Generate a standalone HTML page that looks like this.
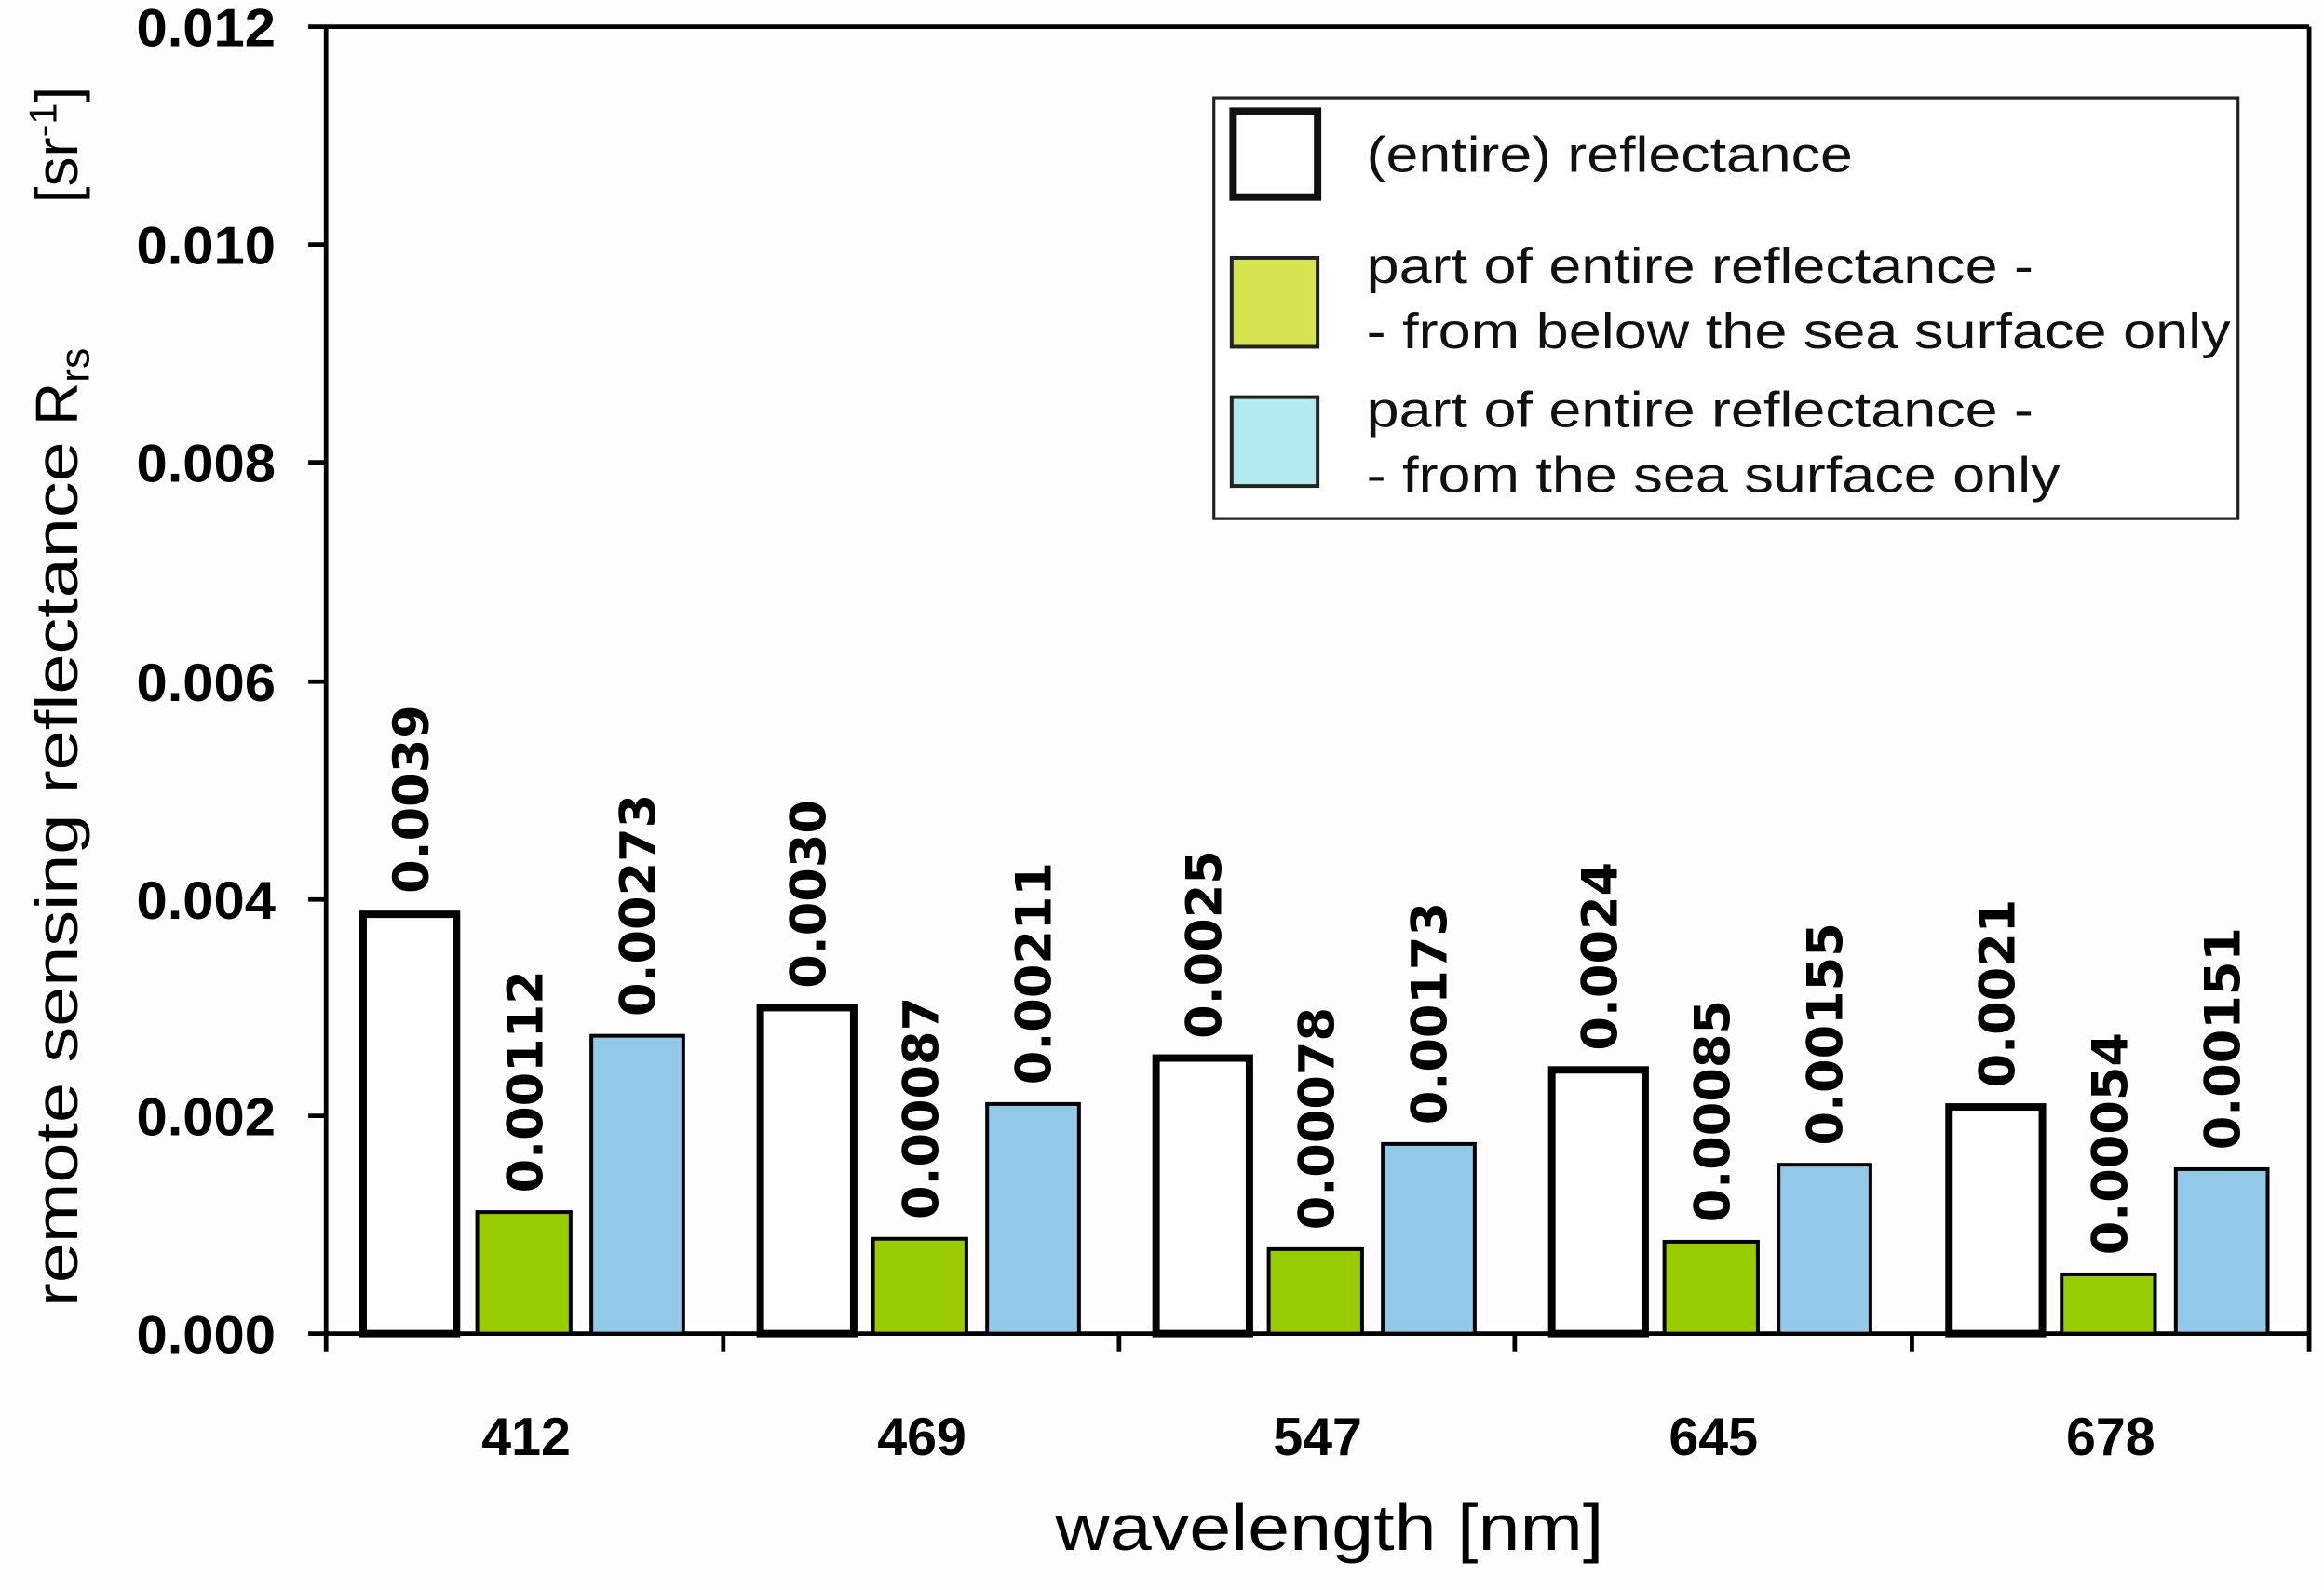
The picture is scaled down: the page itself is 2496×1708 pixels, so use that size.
<!DOCTYPE html>
<html><head><meta charset="utf-8"><style>html,body{margin:0;padding:0;background:#fff}svg{display:block}</style></head>
<body>
<svg width="2496" height="1708" viewBox="0 0 1568 1073" preserveAspectRatio="none" xmlns="http://www.w3.org/2000/svg">
<rect width="1568" height="1073" fill="#fdfdfd"/>
<g stroke="#000" stroke-width="3" fill="none">
<line x1="208" y1="18" x2="1558" y2="18"/>
<line x1="220" y1="18" x2="220" y2="912"/>
<line x1="1558" y1="18" x2="1558" y2="912"/>
<line x1="208" y1="900" x2="1558" y2="900"/>
<line x1="208" y1="165" x2="220" y2="165"/>
<line x1="208" y1="312" x2="220" y2="312"/>
<line x1="208" y1="460" x2="220" y2="460"/>
<line x1="208" y1="607" x2="220" y2="607"/>
<line x1="208" y1="753" x2="220" y2="753"/>
<line x1="488" y1="900" x2="488" y2="912"/>
<line x1="755" y1="900" x2="755" y2="912"/>
<line x1="1022" y1="900" x2="1022" y2="912"/>
<line x1="1290" y1="900" x2="1290" y2="912"/>
</g>
<g font-family="'Liberation Sans',sans-serif" font-weight="bold" font-size="36" text-anchor="end">
<text x="186" y="31" textLength="94" lengthAdjust="spacingAndGlyphs">0.012</text>
<text x="186" y="178" textLength="94" lengthAdjust="spacingAndGlyphs">0.010</text>
<text x="186" y="325" textLength="94" lengthAdjust="spacingAndGlyphs">0.008</text>
<text x="186" y="473" textLength="94" lengthAdjust="spacingAndGlyphs">0.006</text>
<text x="186" y="620" textLength="94" lengthAdjust="spacingAndGlyphs">0.004</text>
<text x="186" y="766" textLength="94" lengthAdjust="spacingAndGlyphs">0.002</text>
<text x="186" y="913" textLength="94" lengthAdjust="spacingAndGlyphs">0.000</text>
</g>
<g font-family="'Liberation Sans',sans-serif" font-weight="bold" font-size="36" text-anchor="middle">
<text x="355" y="982">412</text>
<text x="622" y="982">469</text>
<text x="889" y="982">547</text>
<text x="1156" y="982">645</text>
<text x="1424" y="982">678</text>
</g>
<text x="712" y="1046" font-family="'Liberation Sans',sans-serif" font-size="44" textLength="370" lengthAdjust="spacingAndGlyphs">wavelength  [nm]</text>
<g font-family="'Liberation Sans',sans-serif" font-size="40">
<text transform="translate(52,882) rotate(-90)" textLength="584" lengthAdjust="spacingAndGlyphs">remote sensing reflectance</text>
<text transform="translate(52,287) rotate(-90)">R<tspan font-size="28" dy="8">rs</tspan></text>
<text transform="translate(52,137) rotate(-90)">[sr<tspan font-size="26" dy="-14">-1</tspan><tspan dy="14">]</tspan></text>
</g>

<g stroke="#000">
<rect x="245" y="617" width="63" height="283" fill="#fff" stroke-width="5"/>
<rect x="322" y="818" width="63" height="82" fill="#99cc00" stroke-width="2.5"/>
<rect x="399" y="699" width="62" height="201" fill="#92c8e8" stroke-width="2.5"/>
<rect x="513" y="680" width="63" height="220" fill="#fff" stroke-width="5"/>
<rect x="589" y="836" width="63" height="64" fill="#99cc00" stroke-width="2.5"/>
<rect x="666" y="745" width="62" height="155" fill="#92c8e8" stroke-width="2.5"/>
<rect x="780" y="714" width="63" height="186" fill="#fff" stroke-width="5"/>
<rect x="856" y="843" width="63" height="57" fill="#99cc00" stroke-width="2.5"/>
<rect x="933" y="772" width="62" height="128" fill="#92c8e8" stroke-width="2.5"/>
<rect x="1047" y="722" width="63" height="178" fill="#fff" stroke-width="5"/>
<rect x="1123" y="838" width="63" height="62" fill="#99cc00" stroke-width="2.5"/>
<rect x="1200" y="786" width="62" height="114" fill="#92c8e8" stroke-width="2.5"/>
<rect x="1315" y="747" width="63" height="153" fill="#fff" stroke-width="5"/>
<rect x="1391" y="860" width="63" height="40" fill="#99cc00" stroke-width="2.5"/>
<rect x="1468" y="789" width="62" height="111" fill="#92c8e8" stroke-width="2.5"/>
</g>
<g font-family="'DejaVu Sans',sans-serif" font-weight="bold" font-size="33">
<text transform="translate(289,603) rotate(-90)">0.0039</text>
<text transform="translate(366,805) rotate(-90)">0.00112</text>
<text transform="translate(442,686) rotate(-90)">0.00273</text>
<text transform="translate(557,667) rotate(-90)">0.0030</text>
<text transform="translate(633,823) rotate(-90)">0.00087</text>
<text transform="translate(709,732) rotate(-90)">0.00211</text>
<text transform="translate(824,701) rotate(-90)">0.0025</text>
<text transform="translate(900,830) rotate(-90)">0.00078</text>
<text transform="translate(976,759) rotate(-90)">0.00173</text>
<text transform="translate(1091,709) rotate(-90)">0.0024</text>
<text transform="translate(1167,825) rotate(-90)">0.00085</text>
<text transform="translate(1243,773) rotate(-90)">0.00155</text>
<text transform="translate(1359,734) rotate(-90)">0.0021</text>
<text transform="translate(1435,847) rotate(-90)">0.00054</text>
<text transform="translate(1511,776) rotate(-90)">0.00151</text>
</g>

<rect x="819" y="66" width="691" height="284" fill="#fff" stroke="#222" stroke-width="2"/>
<rect x="832" y="75" width="57" height="58" fill="#fff" stroke="#111" stroke-width="5"/>
<rect x="831" y="174" width="58" height="60" fill="#d4e54f" stroke="#222" stroke-width="2.5"/>
<rect x="831" y="268" width="58" height="60" fill="#b2eaef" stroke="#222" stroke-width="2.5"/>
<g font-family="'Liberation Sans',sans-serif" font-size="34" fill="#111">
<text x="922" y="116" textLength="328" lengthAdjust="spacingAndGlyphs">(entire) reflectance</text>
<text x="922" y="191" textLength="450" lengthAdjust="spacingAndGlyphs">part of entire reflectance -</text>
<text x="922" y="235" textLength="583" lengthAdjust="spacingAndGlyphs">- from below the sea surface only</text>
<text x="922" y="288" textLength="450" lengthAdjust="spacingAndGlyphs">part of entire reflectance -</text>
<text x="922" y="332" textLength="468" lengthAdjust="spacingAndGlyphs">- from the sea surface only</text>
</g>
</svg>
</body></html>
